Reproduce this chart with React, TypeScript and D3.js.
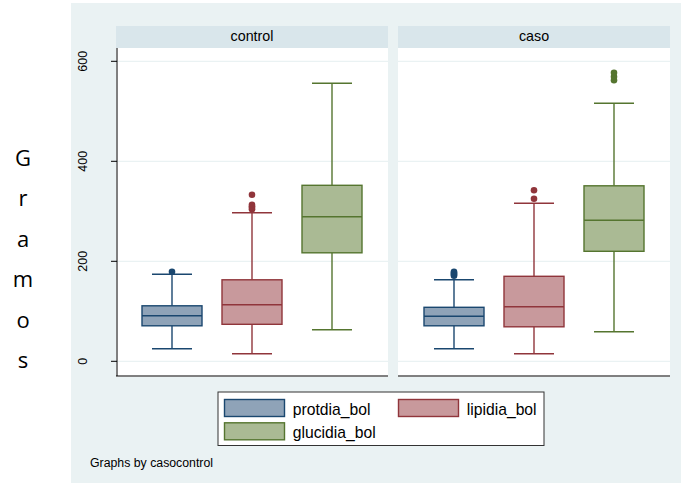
import React from "react";
import * as d3 from "d3";

const groups = ["control", "caso"];
const variables = ["protdia_bol", "lipidia_bol", "glucidia_bol"];
const yTicks = [0, 200, 400, 600];

const controlLow = [25, 15, 63];
const controlQ1 = [71, 74, 217];
const controlMedian = [91, 113, 289];
const controlQ3 = [111, 163, 352];
const controlHigh = [174, 297, 556];
const controlOutliers = [[179], [304, 307, 310, 313, 333], []];

const casoLow = [25, 15, 59];
const casoQ1 = [71, 69, 220];
const casoMedian = [90, 109, 282];
const casoQ3 = [108, 170, 351];
const casoHigh = [163, 316, 516];
const casoOutliers = [[171, 173, 175, 177, 179], [325, 342], [562, 569, 577]];

const yLabelLetters = ["G", "r", "a", "m", "o", "s"];

const strokeColors = ["#1a476f", "#90353b", "#55752f"];
const fillColors = ["#8fa3b8", "#c8999c", "#aaba94"];

const W = 681;
const H = 486;
const FONT = "'Liberation Sans', Arial, Helvetica, sans-serif";

export default function App() {
  const stats = [
    { low: controlLow, q1: controlQ1, med: controlMedian, q3: controlQ3, high: controlHigh, out: controlOutliers },
    { low: casoLow, q1: casoQ1, med: casoMedian, q3: casoQ3, high: casoHigh, out: casoOutliers },
  ];

  const panelX = d3.scaleBand<string>().domain(groups).range([116, 670]).paddingInner(10 / 282).paddingOuter(0);
  const pw = panelX.bandwidth();
  const y = d3.scaleLinear().domain([0, 600]).range([361.3, 61.3]);
  const plotTop = 48;
  const plotBottom = 376;
  const stripTop = 26;

  return (
    <div style={{ position: "absolute", left: 0, top: 0 }}>
      <svg width={W} height={H} style={{ display: "block" }}>
        <rect x={0} y={0} width={W} height={H} fill="#ffffff" />
        <rect x={71} y={3} width={W - 71} height={480} fill="#eaf2f3" />
        {yLabelLetters.map((l, i) => (
          <text key={l + i} x={23} y={166 + i * 40.4} fontFamily="'Open Sans', 'Noto Sans', sans-serif" fontSize={22} textAnchor="middle" fill="#000">
            {l}
          </text>
        ))}
        {groups.map((g, gi) => {
          const left = panelX(g)!;
          const x = d3.scaleBand<string>().domain(variables).range([left + 16, left + 256]);
          const bw = x.bandwidth();
          const s = stats[gi];
          return (
            <g key={g}>
              <rect x={left} y={stripTop} width={pw} height={plotTop - stripTop} fill="#d9e6eb" />
              <text x={left + pw / 2} y={41} textAnchor="middle" fontFamily={FONT} fontSize={14.3} fill="#000">
                {g}
              </text>
              <rect x={left} y={plotTop} width={pw} height={plotBottom - plotTop + 1} fill="#ffffff" />
              {yTicks.map((t) => (
                <line key={t} x1={left} x2={left + pw} y1={y(t)} y2={y(t)} stroke="#eaf2f3" strokeWidth={1.2} />
              ))}
              {variables.map((v, vi) => {
                const cx = x(v)! + bw / 2;
                const boxW = bw * 0.75;
                const capW = bw * 0.5;
                const sc = strokeColors[vi];
                return (
                  <g key={v}>
                    <line x1={cx} x2={cx} y1={y(s.high[vi])} y2={y(s.q3[vi])} stroke={sc} strokeWidth={1.4} />
                    <line x1={cx} x2={cx} y1={y(s.q1[vi])} y2={y(s.low[vi])} stroke={sc} strokeWidth={1.4} />
                    <line x1={cx - capW / 2} x2={cx + capW / 2} y1={y(s.high[vi])} y2={y(s.high[vi])} stroke={sc} strokeWidth={1.4} />
                    <line x1={cx - capW / 2} x2={cx + capW / 2} y1={y(s.low[vi])} y2={y(s.low[vi])} stroke={sc} strokeWidth={1.4} />
                    <rect
                      x={cx - boxW / 2}
                      y={y(s.q3[vi])}
                      width={boxW}
                      height={y(s.q1[vi]) - y(s.q3[vi])}
                      fill={fillColors[vi]}
                      stroke={sc}
                      strokeWidth={1.4}
                    />
                    <line x1={cx - boxW / 2} x2={cx + boxW / 2} y1={y(s.med[vi])} y2={y(s.med[vi])} stroke={sc} strokeWidth={1.4} />
                    {s.out[vi].map((o, oi) => (
                      <circle key={oi} cx={cx} cy={y(o)} r={3.3} fill={sc} />
                    ))}
                  </g>
                );
              })}
              <line x1={left} x2={left + pw} y1={plotBottom} y2={plotBottom} stroke="#000" strokeWidth={1} />
              {gi === 0 && (
                <g>
                  <line x1={left + 1} x2={left + 1} y1={plotTop} y2={plotBottom} stroke="#000" strokeWidth={1} />
                  {yTicks.map((t) => (
                    <g key={t}>
                      <line x1={left - 5} x2={left + 1} y1={y(t)} y2={y(t)} stroke="#000" strokeWidth={1} />
                      <text
                        transform={`translate(86.5,${y(t)}) rotate(-90)`}
                        textAnchor="middle"
                        fontFamily={FONT}
                        fontSize={12.5}
                        fill="#000"
                      >
                        {t}
                      </text>
                    </g>
                  ))}
                </g>
              )}
            </g>
          );
        })}
        <rect x={218} y={392} width={326} height={53.5} fill="#ffffff" stroke="#333333" strokeWidth={1} />
        {variables.map((v, vi) => {
          const col = vi % 2;
          const row = Math.floor(vi / 2);
          const sx = 224.5 + col * 174;
          const sy = 399.5 + row * 23.3;
          return (
            <g key={v}>
              <rect x={sx} y={sy} width={60} height={17} fill={fillColors[vi]} stroke={strokeColors[vi]} strokeWidth={1.4} />
              <text x={sx + 68.3} y={sy + 15} fontFamily={FONT} fontSize={15.7} fill="#000">
                {v}
              </text>
            </g>
          );
        })}
        <text x={90} y={467.3} fontFamily={FONT} fontSize={12.3} fill="#000">
          Graphs by casocontrol
        </text>
      </svg>
    </div>
  );
}
